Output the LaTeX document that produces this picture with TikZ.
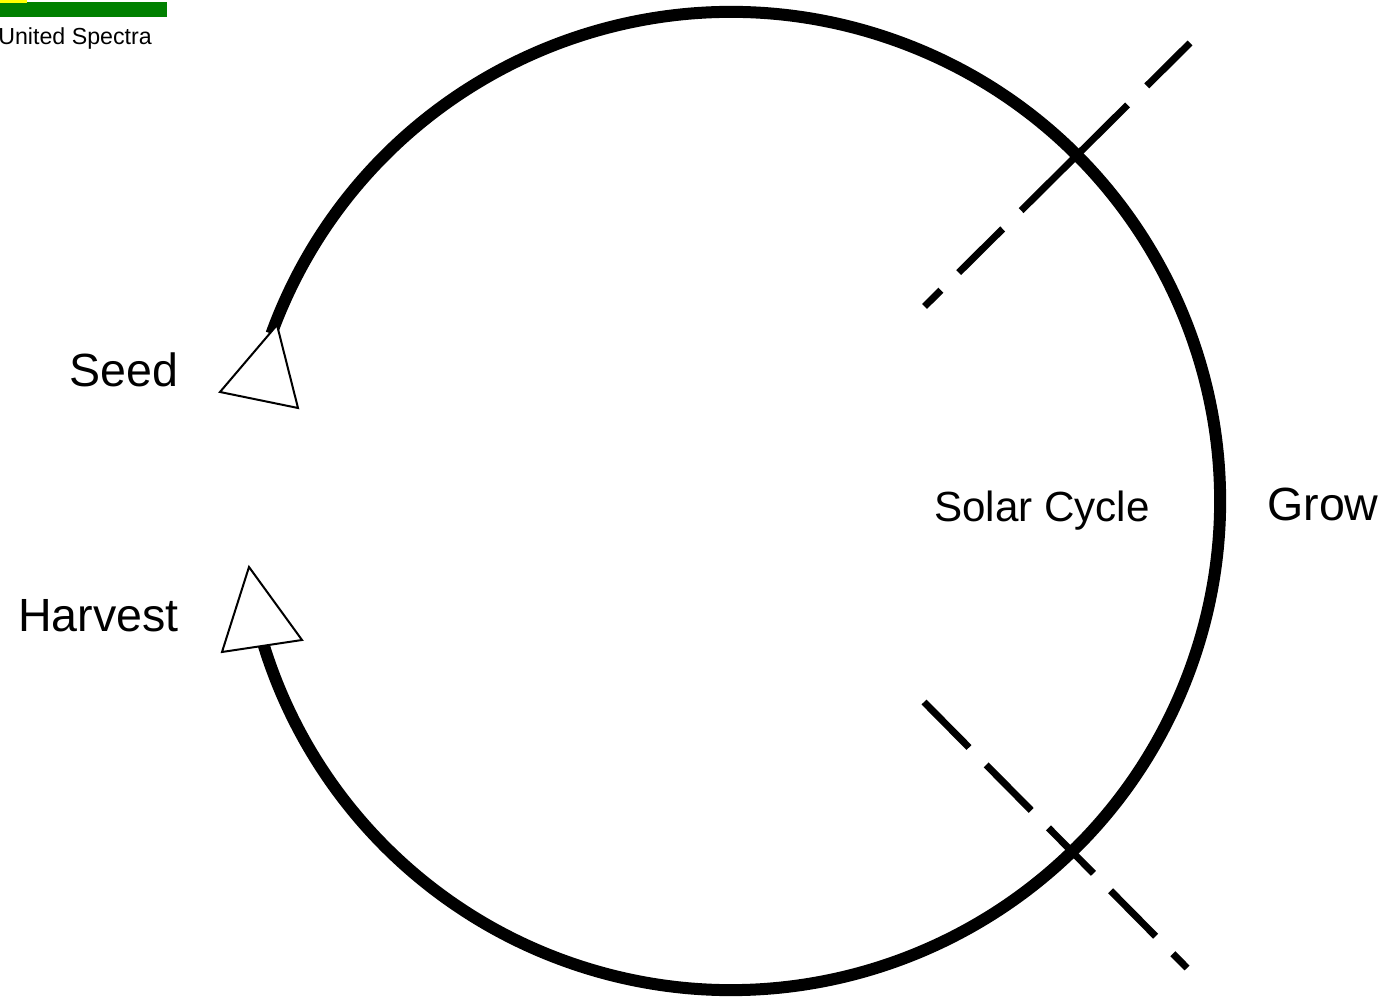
\documentclass[tikz,border=0pt]{standalone}
\usepackage{fontspec}
\setmainfont{Liberation Sans}
\usepackage{xcolor}
\usepackage{tikz}
\usetikzlibrary{positioning}
\definecolor{spectragreen}{HTML}{008000}
\definecolor{spectrayellow}{HTML}{FFFF00}
\tikzset{
  % ---- texts ----------------------------------------------------------
  phaselabel/.style={font=\fontsize{26.5}{30}\selectfont, inner sep=0pt},
  cyclelabel/.style={font=\fontsize{24}{28}\selectfont, inner sep=0pt},
  legendlabel/.style={font=\fontsize{13.2}{15}\selectfont, inner sep=0pt},
  % ---- strokes --------------------------------------------------------
  cyclearc/.style={draw=black, line width=0.24cm},
  splitline/.style={draw=black, line width=0.14cm},
  tipshape/.style={draw=black, fill=white, line width=0.04cm},
}

\begin{document}
\begin{tikzpicture}[x=0.02cm, y=0.02cm]
\useasboundingbox (0,0) rectangle (1389,1001);

% ---- legend ------------------------------------------------------------
\fill[spectragreen] (0,984) rectangle (167,999);
\fill[spectrayellow] (0,998) rectangle (27,1001);
\node[legendlabel, anchor=base west] (legend) at (-2,956) {United Spectra};

% ---- the cycle ---------------------------------------------------------
\coordinate (hub) at (731,500);
\draw[cyclearc] (hub) ++(160:489) arc[start angle=160, end angle=-165, radius=489];

% ---- season boundaries -------------------------------------------------
\coordinate (cutA) at (1190,958);
\coordinate (cutB) at (924,694);
\coordinate (cutC) at (924,299);
\coordinate (cutD) at (1187,33);
\draw[splitline, dash pattern=on 1.22cm off 0.54cm on 3.0cm off 0.52cm on 1.24cm off 0.5cm on 0.46cm off 1cm]
  (cutA) -- (cutB);
\draw[splitline, dash pattern=on 1.28cm off 0.49cm] (cutC) -- (cutD);

% ---- arrow tips --------------------------------------------------------
\coordinate (seedA) at (277,676);
\coordinate (seedB) at (220,609);
\coordinate (seedC) at (298,593);
\draw[tipshape] (seedA) -- (seedB) -- (seedC) -- cycle;
\coordinate (harvA) at (249,434);
\coordinate (harvB) at (302,361);
\coordinate (harvC) at (222,349);
\draw[tipshape] (harvA) -- (harvB) -- (harvC) -- cycle;

% ---- labels ------------------------------------------------------------
\node[phaselabel, anchor=base east] (seed) at (179,614) {Seed};
\node[phaselabel, anchor=base east] (harvest) at (179,369) {Harvest};
\node[cyclelabel, anchor=base] (solar) at (1042,479) {Solar Cycle};
\node[phaselabel, anchor=base west] (grow) at (1267,480) {Grow};

\end{tikzpicture}
\end{document}
